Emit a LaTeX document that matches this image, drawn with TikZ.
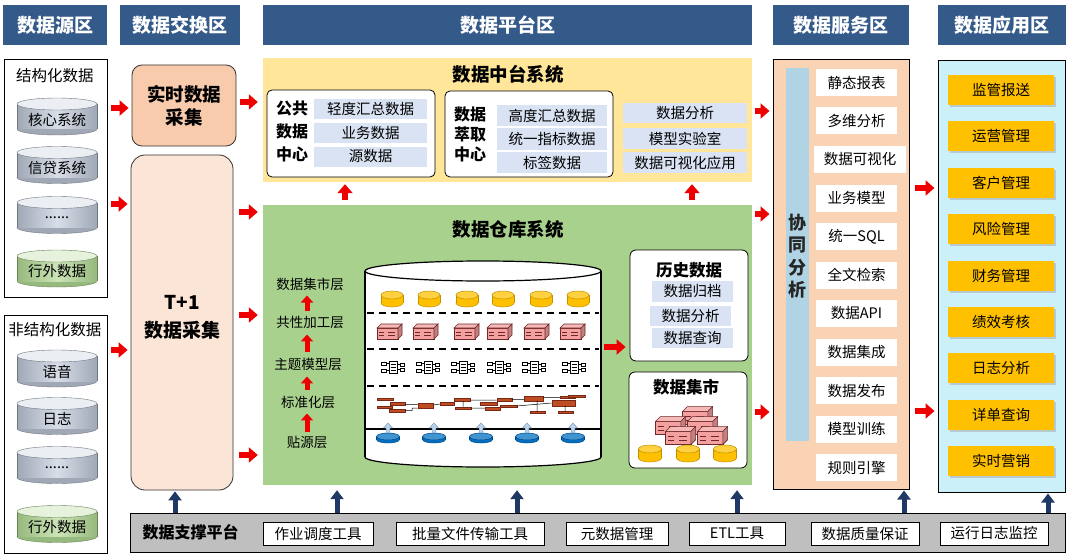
\documentclass[tikz,border=0pt]{standalone}
\usepackage{fontspec}
\setmainfont{Noto Sans CJK SC}
\usetikzlibrary{arrows.meta,shadows}
\definecolor{hdr}{RGB}{52,90,138}
\definecolor{arrred}{RGB}{238,0,0}
\definecolor{navy}{RGB}{31,56,100}
\definecolor{peach}{RGB}{248,203,173}
\definecolor{peachlt}{RGB}{251,229,214}
\definecolor{ylw}{RGB}{255,230,153}
\definecolor{itm}{RGB}{218,227,243}
\definecolor{grn}{RGB}{169,209,142}
\definecolor{servc}{RGB}{250,211,181}
\definecolor{barblue}{RGB}{176,212,228}
\definecolor{appc}{RGB}{204,240,250}
\definecolor{gold}{RGB}{255,192,0}
\definecolor{goldd}{RGB}{191,144,0}
\definecolor{gry}{RGB}{191,191,191}
\definecolor{cylbody}{RGB}{216,222,232}
\definecolor{cylside}{RGB}{160,168,182}
\definecolor{cylgb}{RGB}{204,228,184}
\definecolor{cylgs}{RGB}{150,185,125}
\definecolor{brick}{RGB}{244,160,160}
\definecolor{brickd}{RGB}{110,40,40}
\definecolor{brown}{RGB}{192,76,36}
\definecolor{brownd}{RGB}{120,40,20}
\definecolor{blued}{RGB}{0,112,192}
\definecolor{bluedd}{RGB}{0,70,140}
\definecolor{arrlt}{RGB}{190,210,235}
\newcommand\fsz[2]{\fontsize{#1}{#2}\selectfont}
% source cylinder: name, cy, text, body, side
\newcommand\srccyl[5]{%
 \begin{scope}[shift={(57,#2)}]
  \fill[#5] (0,12.5) ellipse[x radius=40,y radius=6];
  \draw[#5!70!black,line width=0.4pt] (0,12.5) ellipse[x radius=40,y radius=6];
  \fill[left color=#5,right color=#5,middle color=#4] (-40,-12.5) rectangle (40,12.5);
  \draw[#5!70!black,line width=0.4pt] (-40,-12.5) -- (-40,12.5) (40,-12.5) -- (40,12.5);
  \filldraw[fill=#4!50!white,draw=#5!70!black,line width=0.4pt] (0,-12.5) ellipse[x radius=40,y radius=6];
  \node[font=\fsz{14.5}{14.5},inner sep=0] (#1) at (0,3) {#3};
 \end{scope}}
% small cylinder: cx, cy, rx, halfbody, ry, fill, draw
\newcommand\smcyl[7]{%
 \begin{scope}[shift={(#1,#2)}]
  \filldraw[fill=#6,draw=#7,line width=0.5pt] (0,#4) ellipse[x radius=#3,y radius=#5];
  \fill[#6] (-#3,-#4) rectangle (#3,#4);
  \draw[#7,line width=0.5pt] (-#3,-#4) -- (-#3,#4) (#3,-#4) -- (#3,#4);
  \filldraw[fill=#6!75!white,draw=#7,line width=0.5pt] (0,-#4) ellipse[x radius=#3,y radius=#5];
 \end{scope}}
% pink 3D brick: cx, cy, scale
\newcommand\pbrick[3]{%
 \begin{scope}[shift={(#1,#2)},scale=#3]
  \filldraw[fill=brick,draw=brickd,line width=0.6pt] (-12,-3) rectangle (9,8);
  \filldraw[fill=brick!75!white,draw=brickd,line width=0.6pt] (-12,-3) -- (-8,-7) -- (13,-7) -- (9,-3) -- cycle;
  \filldraw[fill=brick!80!black,draw=brickd,line width=0.6pt] (9,-3) -- (13,-7) -- (13,4) -- (9,8) -- cycle;
  \draw[brickd,line width=0.6pt] (-10,0.8) -- (-5,0.8) (-1,0.8) -- (6,0.8) (-10,4.5) -- (-5,4.5) (-1,4.5) -- (6,4.5);
 \end{scope}}
% model icon: cx, cy
\newcommand\micon[2]{%
 \begin{scope}[shift={(#1,#2)},line width=0.5pt]
  \filldraw[fill=white,draw=black] (-4,-6) rectangle (4,6);
  \draw (-2.5,-3) -- (2.5,-3) (-2.5,0) -- (2.5,0) (-2.5,3) -- (2.5,3);
  \draw (-12,-5) rectangle (-7,-2) (-12,2) rectangle (-7,5) (7,-4) rectangle (11,-1) (7,1) rectangle (11,4);
  \draw (-7,-3.5) -- (-4,-3.5) (-7,3.5) -- (-4,3.5) (4,-2.5) -- (7,-2.5) (4,2.5) -- (7,2.5);
 \end{scope}}
% blue disk with arrow: cx, cy
\newcommand\bdisk[2]{%
 \smcyl{#1}{#2}{11.5}{1.5}{3.5}{blued}{bluedd}
 \begin{scope}[shift={(#1,#2)}]
  \filldraw[fill=arrlt,draw=bluedd!60!white,line width=0.4pt] (-1.8,-5.5) -- (-1.8,-10) -- (-4.5,-10) -- (0,-15) -- (4.5,-10) -- (1.8,-10) -- (1.8,-5.5) -- cycle;
 \end{scope}}
\begin{document}
\begin{tikzpicture}[x=1pt,y=-1pt,
  hdrbox/.style={fill=hdr,text=white,font=\fsz{19}{19}\bfseries,minimum height=40pt,inner sep=0pt},
  txt/.style={font=\fsz{14.5}{14.5},inner sep=0pt},
  itembox/.style={txt,fill=itm,minimum height=20pt},
  wbox/.style={txt,fill=white,minimum height=27pt},
  appbox/.style={txt,fill=gold,minimum width=106pt,minimum height=30pt,drop shadow={shadow xshift=2pt,shadow yshift=-2pt,fill=black!35}},
  toolbox/.style={txt,fill=white,draw=black,line width=0.8pt,minimum height=23pt},
  ttl/.style={font=\fsz{18.5}{18.5}\bfseries,inner sep=0pt},
  frame/.style={draw=black,line width=1pt,inner sep=0pt},
  redarr/.style={draw=arrred,line width=6.5pt,-{Triangle[length=9pt,width=15pt]}},
  navyarr/.style={draw=navy,line width=5pt,-{Triangle[length=9pt,width=13pt]}},
  layerarr/.style={draw=arrred,line width=5pt,-{Triangle[length=7pt,width=12pt]}}]
\useasboundingbox[fill=white] (0,0) rectangle (1073,559);

% headers
\node[hdrbox,minimum width=104pt] (h1) at (55,25) {数据源区};
\node[hdrbox,minimum width=120pt] (h2) at (180,25) {数据交换区};
\node[hdrbox,minimum width=489pt] (h3) at (507.5,25) {数据平台区};
\node[hdrbox,minimum width=136pt] (h4) at (841,25) {数据服务区};
\node[hdrbox,minimum width=128pt] (h5) at (1002,25) {数据应用区};

% source area
\node[frame,fill=white,minimum width=103pt,minimum height=237pt] (sbox) at (55.5,178.5) {};
\node[font=\fsz{15.5}{15.5},inner sep=0pt] (stitle) at (55,76) {结构化数据};
\srccyl{c1}{116.5}{核心系统}{cylbody}{cylside}
\srccyl{c2}{165}{信贷系统}{cylbody}{cylside}
\srccyl{c3}{215}{......}{cylbody}{cylside}
\srccyl{c4}{268.5}{行外数据}{cylgb}{cylgs}
\node[frame,fill=white,minimum width=103pt,minimum height=238pt] (ubox) at (55.5,434) {};
\node[font=\fsz{15.5}{15.5},inner sep=0pt] (utitle) at (55,330) {非结构化数据};
\srccyl{u1}{368.5}{语音}{cylbody}{cylside}
\srccyl{u2}{416}{日志}{cylbody}{cylside}
\srccyl{u3}{465}{......}{cylbody}{cylside}
\srccyl{u4}{524}{行外数据}{cylgb}{cylgs}

% exchange area
\node[draw=black!80,line width=0.8pt,fill=peach,rounded corners=10pt,minimum width=104pt,minimum height=81pt] (rt) at (184,105.5) {};
\node[ttl,align=center,font=\fsz{18.5}{23}\bfseries] (rtlab) at (184,106) {实时数据\\采集};
\node[draw=black!80,line width=0.8pt,fill=peachlt,rounded corners=14pt,minimum width=102pt,minimum height=335pt] (t1) at (182,322.5) {};
\node[ttl,align=center,font=\fsz{19}{28}\bfseries] (t1lab) at (182,317) {T+1\\数据采集};

% data middle platform
\node[fill=ylw,minimum width=489pt,minimum height=124pt,inner sep=0pt] (mid) at (507.5,120) {};
\node[ttl] (midt) at (508,74) {数据中台系统};
\node[draw=black,line width=0.8pt,fill=white,rounded corners=5pt,minimum width=168pt,minimum height=87pt] (pub) at (351,133.5) {};
\node[align=center,font=\fsz{16}{23}\bfseries,inner sep=0pt] (publ) at (292,131) {公共\\数据\\中心};
\node[itembox,minimum width=113pt] (p1) at (370.5,109) {轻度汇总数据};
\node[itembox,minimum width=113pt] (p2) at (370.5,133) {业务数据};
\node[itembox,minimum width=113pt] (p3) at (370.5,156.5) {源数据};
\node[draw=black,line width=0.8pt,fill=white,rounded corners=5pt,minimum width=168pt,minimum height=86pt] (ext) at (529,134) {};
\node[align=center,font=\fsz{16}{20}\bfseries,inner sep=0pt] (extl) at (470,134) {数据\\萃取\\中心};
\node[itembox,minimum width=110pt,minimum height=21pt] (e1) at (552,115.5) {高度汇总数据};
\node[itembox,minimum width=110pt,minimum height=21pt] (e2) at (552,139) {统一指标数据};
\node[itembox,minimum width=110pt,minimum height=21pt] (e3) at (552,162.5) {标签数据};
\node[itembox,minimum width=124pt] (r1) at (685,113.5) {数据分析};
\node[itembox,minimum width=124pt,minimum height=21pt] (r2) at (685,138.5) {模型实验室};
\node[itembox,minimum width=124pt,minimum height=21pt] (r3) at (685,162.5) {数据可视化应用};

% data warehouse
\node[fill=grn,minimum width=489pt,minimum height=280pt,inner sep=0pt] (wh) at (507.5,345) {};
\node[ttl] (wht) at (508,229) {数据仓库系统};
\node[font=\fsz{13.5}{13.5},inner sep=0pt] (L5) at (310,284) {数据集市层};
\node[font=\fsz{13.5}{13.5},inner sep=0pt] (L4) at (310,322) {共性加工层};
\node[font=\fsz{13.5}{13.5},inner sep=0pt] (L3) at (308,364) {主题模型层};
\node[font=\fsz{13.5}{13.5},inner sep=0pt] (L2) at (308,402) {标准化层};
\node[font=\fsz{13.5}{13.5},inner sep=0pt] (L1) at (307,442) {贴源层};
\draw[layerarr,shorten <=4pt,shorten >=5pt] (L1.north -| 307,0) -- (L2.south -| 307,0);
\draw[layerarr,shorten <=6pt,shorten >=6pt] (L2.north -| 307,0) -- (L3.south -| 307,0);
\draw[layerarr,shorten <=6pt,shorten >=6pt] (L3.north -| 307,0) -- (L4.south -| 307,0);
\draw[layerarr,shorten <=5pt,shorten >=5pt] (L4.north -| 307,0) -- (L5.south -| 307,0);

% big cylinder
\filldraw[fill=white,draw=black,line width=1.2pt] (483,457) ellipse[x radius=118,y radius=10];
\fill[white] (365,271) rectangle (601,457);
\draw[black,line width=1.2pt] (365,271) -- (365,457) (601,271) -- (601,457);
\filldraw[fill=white,draw=black,line width=1.2pt] (483,271) ellipse[x radius=118,y radius=10];
\draw[line width=2pt,dash pattern=on 7pt off 5pt] (367,313) -- (599,313);
\draw[line width=2pt,dash pattern=on 7pt off 5pt] (367,349) -- (599,349);
\draw[line width=2pt,dash pattern=on 7pt off 5pt] (367,386) -- (599,386);
\draw[line width=2pt] (366,429) -- (600,429);
\coordinate (cylR) at (601,347);
% row 1: marts
\foreach \cx in {392,429,467,503,541,578} {\smcyl{\cx}{299}{11}{4}{4}{gold}{goldd}}
% row 2: bricks
\foreach \cx in {389,425,466,499,536,572} {\pbrick{\cx}{331}{1}}
% row 3: model icons
\foreach \cx in {393,428,463,499,534,574} {\micon{\cx}{367}}
% row 4: standardised bars
\foreach \a/\b/\c/\d in {376.7/397.7/393.3/400.3, 390/402/405/404.7, 377.3/405.7/391.7/407.7, 389.3/409.3/405/411.7, 417.7/403.3/433.3/407.7, 440/402.3/454.3/405, 454.3/398.3/470/401, 455/406.7/471/409, 480/402.3/496.7/405, 496.7/398.3/511.7/400.7, 485/407.3/500/410, 500/405/516.7/407.3, 524.3/395.7/543.3/400.7, 551.7/400/575/405.7, 560/396/575/398, 568.3/395/585/397, 530/411.3/545/412.7, 557.7/411.3/573.3/412.7}
  {\filldraw[fill=brown,draw=brownd,line width=0.4pt] (\a,\b) rectangle (\c,\d);}
\draw[line width=0.5pt] (405,404.5) -- (417.7,404.5) (405,410.5) -- (412,410.5) -- (412,408) -- (417.7,408)
  (433.3,405) -- (440,404) (470,400) -- (496.7,400) (471,408) -- (485,408) (463,401) -- (463,406.7)
  (511.7,399.5) -- (524.3,399.5) (516.7,406) -- (551.7,403) (543.3,397.5) -- (560,397.5)
  (537,400.7) -- (537,411.3) (565,405.7) -- (565,411.3);
% row 5: source disks
\foreach \cx in {388,434,481,527,573} {\bdisk{\cx}{438}}

% history and mart boxes
\node[draw=black,line width=0.8pt,fill=white,rounded corners=6pt,minimum width=118pt,minimum height=111pt] (hist) at (689,305.5) {};
\node[font=\fsz{16.5}{16.5}\bfseries,inner sep=0pt] (histt) at (689,270) {历史数据};
\node[itembox,minimum width=81pt,minimum height=21pt] (hi1) at (692.5,291.5) {数据归档};
\node[itembox,minimum width=81pt] (hi2) at (690.5,316) {数据分析};
\node[itembox,minimum width=81pt] (hi3) at (692.5,338) {数据查询};
\node[draw=black,line width=0.8pt,fill=white,rounded corners=6pt,minimum width=118pt,minimum height=96pt] (mart) at (688,420) {};
\node[font=\fsz{16.5}{16.5}\bfseries,inner sep=0pt] (martt) at (686,387) {数据集市};
\pbrick{697}{415}{1.2}
\pbrick{670}{425}{1.2}
\pbrick{702}{425}{1.2}
\pbrick{680}{435}{1.2}
\pbrick{712}{435}{1.2}
\foreach \cx in {650,688,725} {\smcyl{\cx}{453.5}{11.5}{4.5}{4}{gold}{goldd}}

% service area
\node[frame,fill=servc,minimum width=136pt,minimum height=429pt] (serv) at (841,274.5) {};
\node[fill=barblue,minimum width=23pt,minimum height=373pt,inner sep=0pt] (sbar) at (797.5,254.5) {};
\node[align=center,font=\fsz{18}{22.5}\bfseries,inner sep=0pt,text=black!85] (sbarl) at (797.5,256) {协\\同\\分\\析};
\foreach \t/\w/\cx [count=\i from 0] in {静态报表/81/856.5,多维分析/81/856.5,数据可视化/92/860,业务模型/81/856.5,统一SQL/81/856.5,全文检索/81/856.5,数据API/81/856.5,数据集成/81/856.5,数据发布/81/856.5,模型训练/81/856.5,规则引擎/81/856.5}
  {\node[wbox,minimum width=\w pt] (s\i) at (\cx,{82.5+38.5*\i}) {\t};}

% application area
\node[frame,fill=appc,minimum width=127pt,minimum height=431pt] (app) at (1001.5,276.5) {};
\foreach \t [count=\i from 0] in {监管报送,运营管理,客户管理,风险管理,财务管理,绩效考核,日志分析,详单查询,实时营销}
  {\node[appbox] (a\i) at (1001,{90+46.4*\i}) {\t};}

% support platform
\node[frame,fill=gry,minimum width=935pt,minimum height=39pt] (bar) at (597.5,532.5) {};
\node[font=\fsz{16}{16}\bfseries,inner sep=0pt] (barl) at (190.5,532) {数据支撑平台};
\node[toolbox,minimum width=110pt] (b1) at (318,533.5) {作业调度工具};
\node[toolbox,minimum width=148pt] (b2) at (470,533.5) {批量文件传输工具};
\node[toolbox,minimum width=102pt] (b3) at (617,533.5) {元数据管理};
\node[toolbox,minimum width=96pt] (b4) at (737,533.5) {ETL工具};
\node[toolbox,minimum width=108pt] (b5) at (865,533.5) {数据质量保证};
\node[toolbox,minimum width=108pt] (b6) at (994,533.5) {运行日志监控};

% navy arrows
\draw[navyarr,shorten >=1pt] (bar.north -| 175,0) -- (t1.south -| 175,0);
\draw[navyarr,shorten >=5pt] (bar.north -| 337,0) -- (wh.south -| 337,0);
\draw[navyarr,shorten >=5pt] (bar.north -| 517,0) -- (wh.south -| 517,0);
\draw[navyarr,shorten >=5pt] (bar.north -| 737,0) -- (wh.south -| 737,0);
\draw[navyarr,shorten >=1pt] (bar.north -| 904,0) -- (serv.south -| 904,0);
\draw[navyarr,shorten >=1pt] (bar.north -| 1048,0) -- (app.south -| 1048,0);

% red arrows
\draw[redarr,shorten <=3pt,shorten >=3pt] (sbox.east |- 0,108) -- (rt.west |- 0,108);
\draw[redarr,shorten <=3pt,shorten >=3pt] (sbox.east |- 0,204) -- (t1.west |- 0,204);
\draw[redarr,shorten <=3pt,shorten >=3pt] (ubox.east |- 0,350) -- (t1.west |- 0,350);
\draw[redarr,shorten <=4pt,shorten >=5pt] (rt.east |- 0,102) -- (mid.west |- 0,102);
\draw[redarr,shorten <=6pt,shorten >=5pt] (t1.east |- 0,212) -- (wh.west |- 0,212);
\draw[redarr,shorten <=6pt,shorten >=5pt] (t1.east |- 0,315) -- (wh.west |- 0,315);
\draw[redarr,shorten <=6pt,shorten >=5pt] (t1.east |- 0,455) -- (wh.west |- 0,455);
\draw[redarr,shorten <=3pt,shorten >=3pt] (mid.east |- 0,111) -- (serv.west |- 0,111);
\draw[redarr,shorten <=3pt,shorten >=3pt] (wh.east |- 0,214) -- (serv.west |- 0,214);
\draw[redarr,shorten <=3pt,shorten >=3pt] (wh.east |- 0,412) -- (serv.west |- 0,412);
\draw[redarr,shorten <=5pt,shorten >=3pt] (serv.east |- 0,188) -- (app.west |- 0,188);
\draw[redarr,shorten <=5pt,shorten >=3pt] (serv.east |- 0,411) -- (app.west |- 0,411);
\draw[redarr,shorten <=3pt,shorten >=4pt] (cylR) -- (hist.west |- cylR);
\draw[redarr,shorten <=5pt,shorten >=2pt] (wh.north -| 345,0) -- (mid.south -| 345,0);
\draw[redarr,shorten <=5pt,shorten >=2pt] (wh.north -| 692,0) -- (mid.south -| 692,0);
\end{tikzpicture}
\end{document}
